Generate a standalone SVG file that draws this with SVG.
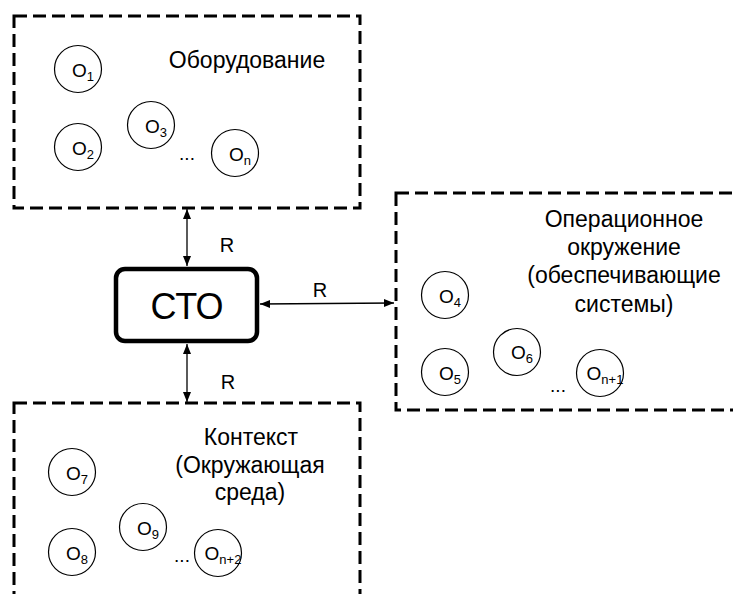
<svg xmlns="http://www.w3.org/2000/svg" width="733" height="594" viewBox="0 0 733 594">
<style>
.frame{fill:none;stroke:#000;stroke-width:3;stroke-dasharray:13 6}
.obj{fill:#fff;stroke:#000;stroke-width:1.2}
.ol{font-family:"Liberation Sans",Arial,sans-serif;font-size:19px;fill:#000;text-anchor:middle}
.sub{font-size:13px}
.lbl{font-family:"Liberation Sans",Arial,sans-serif;font-size:23px;fill:#000;text-anchor:middle}
.r{font-family:"Liberation Sans",Arial,sans-serif;font-size:20px;fill:#000;text-anchor:middle}
.conn{stroke:#000;stroke-width:1.3;fill:none;marker-start:url(#ah);marker-end:url(#ah)}
</style>
<defs>
<marker id="ah" viewBox="0 0 10 10" refX="10" refY="5" markerWidth="10" markerHeight="10" markerUnits="userSpaceOnUse" orient="auto-start-reverse">
<path d="M0,1 L10,5 L0,9 z" fill="#000"/>
</marker>
</defs>
<rect width="733" height="594" fill="#fff"/>

<g id="equipment">
<rect class="frame" x="14" y="16" width="346" height="192"/>
<text class="lbl" x="247" y="68">Оборудование</text>
<circle class="obj" cx="78" cy="69" r="23.5"/><text class="ol" x="83" y="77">O<tspan class="sub" dy="4">1</tspan></text>
<circle class="obj" cx="78" cy="147" r="23.5"/><text class="ol" x="83" y="155">O<tspan class="sub" dy="4">2</tspan></text>
<circle class="obj" cx="151" cy="125" r="23.5"/><text class="ol" x="156" y="133">O<tspan class="sub" dy="4">3</tspan></text>
<text class="ol" x="187" y="160">...</text>
<circle class="obj" cx="235" cy="153" r="23.5"/><text class="ol" x="240" y="161">O<tspan class="sub" dy="4">n</tspan></text>
</g>

<g id="operational">
<rect class="frame" x="396" y="193" width="350" height="217"/>
<text class="lbl" x="624" y="227">Операционное</text>
<text class="lbl" x="624" y="255">окружение</text>
<text class="lbl" x="624" y="283">(обеспечивающие</text>
<text class="lbl" x="624" y="312">системы)</text>
<circle class="obj" cx="445" cy="295" r="23.5"/><text class="ol" x="450" y="303">O<tspan class="sub" dy="4">4</tspan></text>
<circle class="obj" cx="445" cy="372" r="23.5"/><text class="ol" x="450" y="380">O<tspan class="sub" dy="4">5</tspan></text>
<circle class="obj" cx="517" cy="352" r="23.5"/><text class="ol" x="522" y="359">O<tspan class="sub" dy="4">6</tspan></text>
<text class="ol" x="558" y="392">...</text>
<circle class="obj" cx="600" cy="373" r="23.5"/><text class="ol" x="605" y="380">O<tspan class="sub" dy="4">n+1</tspan></text>
</g>

<g id="context">
<rect class="frame" x="14" y="403" width="346" height="220"/>
<text class="lbl" x="251" y="445">Контекст</text>
<text class="lbl" x="250" y="473">(Окружающая</text>
<text class="lbl" x="250" y="500">среда)</text>
<circle class="obj" cx="72" cy="472" r="23.5"/><text class="ol" x="77" y="480">O<tspan class="sub" dy="4">7</tspan></text>
<circle class="obj" cx="72" cy="552" r="23.5"/><text class="ol" x="77" y="560">O<tspan class="sub" dy="4">8</tspan></text>
<circle class="obj" cx="143" cy="527" r="23.5"/><text class="ol" x="148" y="535">O<tspan class="sub" dy="4">9</tspan></text>
<text class="ol" x="182" y="562">...</text>
<circle class="obj" cx="218" cy="553" r="23.5"/><text class="ol" x="223" y="560">O<tspan class="sub" dy="4">n+2</tspan></text>
</g>

<g id="sto">
<rect x="116" y="269" width="141" height="72" rx="9" ry="9" fill="#fff" stroke="#000" stroke-width="4.5"/>
<text x="187" y="319" font-family="Liberation Sans, Arial, sans-serif" font-size="36" text-anchor="middle">СТО</text>
</g>

<g id="connectors">
<line class="conn" x1="187" y1="209" x2="187" y2="266"/>
<line class="conn" x1="187" y1="344" x2="187" y2="402"/>
<line class="conn" x1="260" y1="304" x2="394" y2="303"/>
<text class="r" x="227" y="252">R</text>
<text class="r" x="320" y="297">R</text>
<text class="r" x="228" y="389">R</text>
</g>
</svg>
